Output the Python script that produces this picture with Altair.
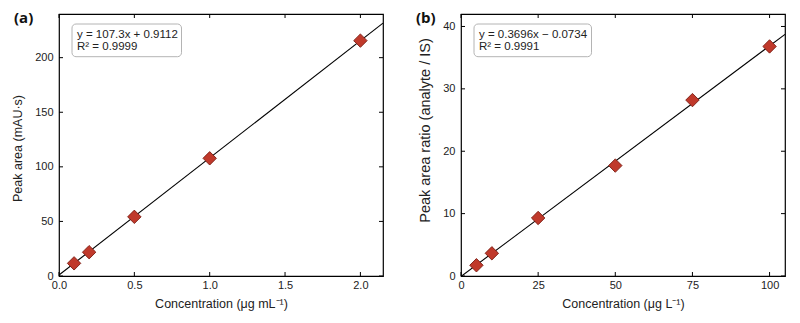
import altair as alt
import pandas as pd

# Calibration data, panel (a): HPLC-UV peak area vs concentration
conc_a = [0.1, 0.2, 0.5, 1.0, 2.0]
area_a = [11.6, 21.8, 54.2, 107.8, 215.6]
slope_a, icpt_a = 107.3, 0.9112
eq_a = ["y = 107.3x + 0.9112", "R² = 0.9999"]

# Calibration data, panel (b): peak area ratio (analyte / IS) vs concentration
conc_b = [5, 10, 25, 50, 75, 100]
ratio_b = [1.72, 3.64, 9.3, 17.7, 28.2, 36.8]
slope_b, icpt_b = 0.3696, -0.0734
eq_b = ["y = 0.3696x − 0.0734", "R² = 0.9991"]

# Axis ranges and tick positions
xdom_a, ydom_a = [0, 2.15], [0, 240]
xdom_b, ydom_b = [0, 105], [0, 42]
xticks_a, yticks_a = [0.0, 0.5, 1.0, 1.5, 2.0], [0, 50, 100, 150, 200]
xticks_b, yticks_b = [0, 25, 50, 75, 100], [0, 10, 20, 30, 40]

W, H = 324, 262
TICK = 4
FONT = "Liberation Sans"
TXT = "#222222"


def panel(tag, xs, ys, slope, icpt, eq, box_w, xdom, ydom, xticks, yticks,
          xfmt, yfmt, xtitle, ytitle, ytitle_size, ytitle_y):
    xsc = alt.Scale(domain=xdom, nice=False, zero=False)
    ysc = alt.Scale(domain=ydom, nice=False, zero=False)
    common = dict(ticks=False, domain=False, grid=False, labelFlush=False,
                  labelFont=FONT, labelFontSize=11, labelColor=TXT,
                  titleFont=FONT, titleColor=TXT, titleFontWeight="normal")
    xax = alt.Axis(values=xticks, format=xfmt, title=xtitle, titleFontSize=12.5,
                   labelPadding=3, titlePadding=7, **common)
    yax = alt.Axis(values=yticks, format=yfmt, title=ytitle,
                   titleFontSize=ytitle_size, titleY=ytitle_y,
                   labelPadding=6, titlePadding=10, **common)
    X = alt.X("x:Q", scale=xsc, axis=xax)
    Y = alt.Y("y:Q", scale=ysc, axis=yax)

    # fitted calibration line from the stated slope and intercept
    fit = (
        alt.Chart(pd.DataFrame({"x": xdom}))
        .transform_calculate(y=f"{slope} * datum.x + ({icpt})")
        .mark_line(color="black", strokeWidth=1.1, clip=True)
        .encode(x=X, y=Y)
    )
    pts = (
        alt.Chart(pd.DataFrame({"x": xs, "y": ys}))
        .mark_point(shape="diamond", filled=True, size=180, fill="#c0392b",
                    stroke="#7a1c12", strokeWidth=0.9, opacity=1)
        .encode(x=X, y=Y)
    )

    # inward-pointing ticks on all four sides
    xt = pd.DataFrame({"x": xticks})
    yt = pd.DataFrame({"y": yticks})
    rule = dict(color="black", strokeWidth=1)
    t_bottom = alt.Chart(xt).mark_rule(**rule).encode(
        x=X, y=alt.value(H), y2=alt.value(H - TICK))
    t_top = alt.Chart(xt).mark_rule(**rule).encode(
        x=X, y=alt.value(0), y2=alt.value(TICK))
    t_left = alt.Chart(yt).mark_rule(**rule).encode(
        y=Y, x=alt.value(0), x2=alt.value(TICK))
    t_right = alt.Chart(yt).mark_rule(**rule).encode(
        y=Y, x=alt.value(W), x2=alt.value(W - TICK))

    one = pd.DataFrame({"k": [0]})
    box = alt.Chart(one).mark_rect(
        fill="white", stroke="#b4b4b4", strokeWidth=1, cornerRadius=4
    ).encode(x=alt.value(13), x2=alt.value(13 + box_w),
             y=alt.value(10), y2=alt.value(42.7))
    eq_text = alt.Chart(one).mark_text(
        text=eq, align="left", baseline="alphabetic", font=FONT, fontSize=11.5,
        lineHeight=12, color=TXT
    ).encode(x=alt.value(18), y=alt.value(24.3))
    label = alt.Chart(one).mark_text(
        text=tag, align="left", baseline="top", font="Open Sans",
        fontSize=15, fontWeight="bold", color="#111111"
    ).encode(x=alt.value(-45), y=alt.value(-3))

    return alt.layer(fit, pts, t_bottom, t_top, t_left, t_right, box, eq_text,
                     label).properties(
        width=W, height=H,
        view=alt.ViewBackground(stroke="black", strokeWidth=1.2, fill="white"),
    )


pa = panel("(a)", conc_a, area_a, slope_a, icpt_a, eq_a, 109.5,
           xdom_a, ydom_a, xticks_a, yticks_a, ".1f", "d",
           "Concentration (μg mL⁻¹)", "Peak area (mAU·s)", 12.5, H / 2 + 3)
pb = panel("(b)", conc_b, ratio_b, slope_b, icpt_b, eq_b, 117.5,
           xdom_b, ydom_b, xticks_b, yticks_b, "d", "d",
           "Concentration (μg L⁻¹)", "Peak area ratio (analyte / IS)", 14.5, 116)

chart = (
    alt.hconcat(pa, pb, spacing=78, bounds="flush")
    .properties(padding={"left": 11, "top": 10, "right": 5, "bottom": 5})
    .configure_view(stroke="black", strokeWidth=1.2)
    .configure(background="white")
)

chart.save("out.html", embed_options={"renderer": "svg", "actions": False})
